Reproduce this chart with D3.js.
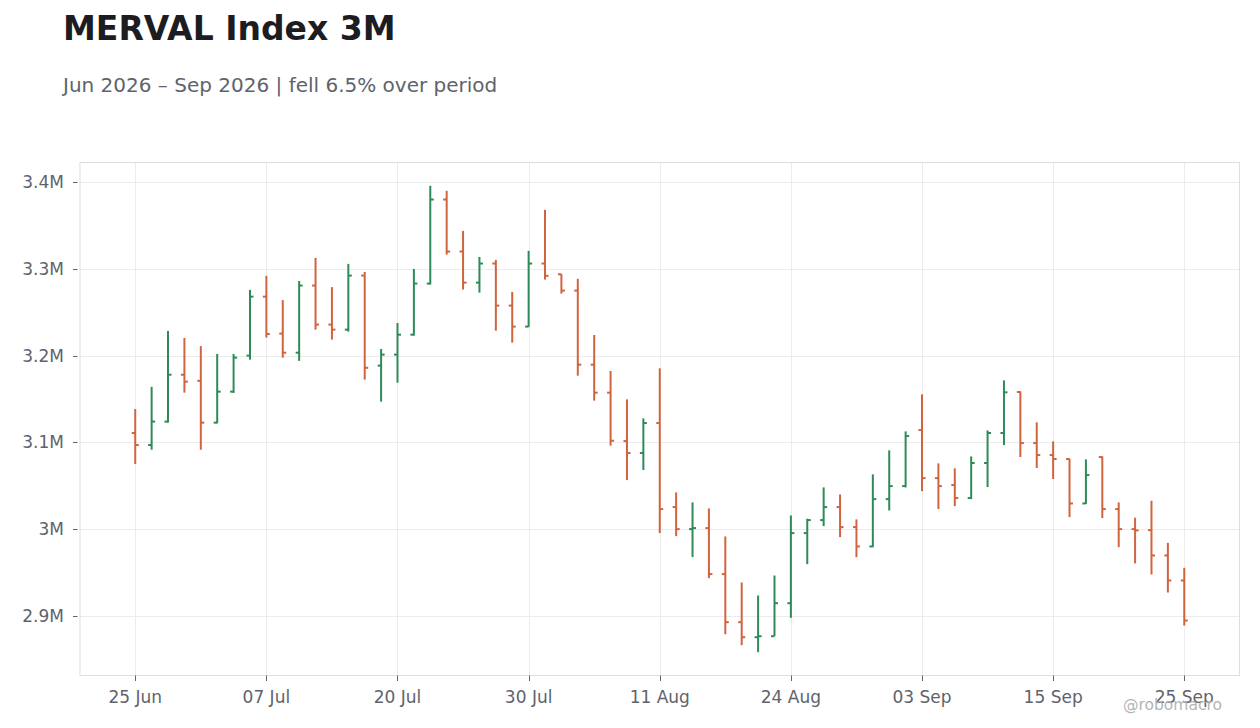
<!DOCTYPE html>
<html>
<head>
<meta charset="utf-8">
<script src="https://cdn.jsdelivr.net/npm/d3@7"></script>
<style>
  html, body { margin: 0; padding: 0; background: #ffffff; }
  svg { display: block; font-family: "DejaVu Sans", sans-serif; }
</style>
</head>
<body>
<svg id="chart" width="1260" height="728"></svg>
<script>
// ---- data (values in index points) ----
const opens = [3110800,3097000,3124000,3178000,3171000,3122700,3158500,3200000,3268000,3225400,
  3203400,3280800,3235800,3230000,3292300,3188500,3201200,3224200,3283100,3380000,
  3320000,3284200,3306200,3257700,3233500,3306200,3293800,3275000,3189600,3157300,
  3101500,3087700,3122300,3025400,3000000,3001200,2948100,2892700,2875400,2876500,
  2914600,2995400,3010400,3025400,3002300,2980000,3034600,3049600,3114200,3058800,
  3050800,3035800,3076200,3110800,3158100,3099200,3085400,3080800,3029600,3083100,
  3023100,3000000,2998800,2969600,2940800];
const highs = [3138500,3164000,3228500,3220400,3211000,3202000,3202000,3275800,3292000,3264000,
  3286000,3312700,3279000,3305800,3296500,3207700,3237700,3300000,3395800,3390000,
  3343800,3313800,3310400,3273500,3320800,3368100,3293800,3288500,3223800,3182300,
  3149600,3127700,3185400,3042300,3030800,3023800,2991500,2938500,2923500,2946500,
  3015800,3011900,3048100,3040000,3011200,3063100,3090800,3112700,3155400,3075800,
  3070000,3083800,3113800,3171500,3158800,3123100,3101200,3081200,3080400,3083800,
  3030800,3013100,3032700,2984200,2955400];
const lows = [3075000,3091500,3122700,3157300,3091500,3122000,3157000,3195400,3220800,3197700,
  3194000,3230000,3218500,3227700,3172300,3147000,3168800,3223100,3282000,3316500,
  3276200,3272700,3228800,3215000,3233100,3287700,3271500,3176900,3148100,3096200,
  3056500,3068100,2995400,2991900,2967700,2943500,2878800,2866200,2858100,2876500,
  2897700,2959600,3003500,2990800,2967700,2979200,3021500,3048100,3043800,3023100,
  3026500,3034600,3048500,3096900,3083100,3070400,3057700,3013800,3029000,3012700,
  2979200,2960400,2947700,2926900,2888800];
const closes = [3097000,3124000,3178000,3170000,3122700,3158500,3197700,3268000,3225000,3203400,
  3280800,3235800,3230000,3292300,3186000,3201200,3224200,3283100,3380000,3320000,
  3284200,3306200,3257700,3233500,3306200,3292000,3275000,3189600,3157300,3101900,
  3087700,3122300,3023100,3000000,3001200,2948100,2892700,2875400,2876500,2914600,
  2995400,3010400,3025400,3002300,2980000,3034600,3049600,3107300,3058800,3049600,
  3035800,3076200,3110800,3157700,3099200,3085400,3080800,3029600,3062300,3023100,
  3000000,2998500,2969600,2940800,2894600];
// x-axis tick labels and the bar index they sit on
const tickLabels = ["25 Jun","07 Jul","20 Jul","30 Jul","11 Aug","24 Aug","03 Sep","15 Sep","25 Sep"];
const tickIndex  = [0, 8, 16, 24, 32, 40, 48, 56, 64];

const title = "MERVAL Index 3M";
const subtitle = "Jun 2026 \u2013 Sep 2026 | fell 6.5% over period";
const credit = "@robomacro";

// ---- build ----
const bars = opens.map((o, i) => ({ i, o, h: highs[i], l: lows[i], c: closes[i] }));

const svg = d3.select("#chart");
const plot = { left: 80, right: 1239.5, top: 162.5, bottom: 675.5 };

const UP = "#2e8b57", DOWN = "#d0643f";

const pad = 3.37;
const x = d3.scaleLinear().domain([-pad, bars.length - 1 + pad]).range([plot.left, plot.right]);

const lo = d3.min(lows), hi = d3.max(highs), span = hi - lo;
const y = d3.scaleLinear().domain([lo - span * 0.05, hi + span * 0.05]).range([plot.bottom, plot.top]);
const yTicks = y.ticks(6);
const fmt = d3.format(".2~s");

// title & subtitle
svg.append("text").attr("x", 63).attr("y", 40)
  .attr("font-size", 33).attr("font-weight", "bold").attr("fill", "#1c1c21").text(title);
svg.append("text").attr("x", 63).attr("y", 92)
  .attr("font-size", 20).attr("fill", "#60636b").text(subtitle);

// grid
const g = svg.append("g");
g.selectAll("line.hg").data(yTicks).join("line")
  .attr("x1", plot.left).attr("x2", plot.right)
  .attr("y1", d => Math.round(y(d)) + 0.5).attr("y2", d => Math.round(y(d)) + 0.5)
  .attr("stroke", "#ececec").attr("stroke-width", 1);
g.selectAll("line.vg").data(tickIndex).join("line")
  .attr("y1", plot.top).attr("y2", plot.bottom)
  .attr("x1", d => Math.round(x(d)) + 0.5).attr("x2", d => Math.round(x(d)) + 0.5)
  .attr("stroke", "#ececec").attr("stroke-width", 1);

// frame
svg.append("rect").attr("x", plot.left).attr("y", plot.top)
  .attr("width", plot.right - plot.left).attr("height", plot.bottom - plot.top)
  .attr("fill", "none").attr("stroke", "#dedede").attr("stroke-width", 1);

// y axis
const ya = svg.append("g");
ya.selectAll("line").data(yTicks).join("line")
  .attr("x1", 73).attr("x2", 77.5)
  .attr("y1", d => Math.round(y(d)) + 0.5).attr("y2", d => Math.round(y(d)) + 0.5)
  .attr("stroke", "#60636b").attr("stroke-width", 1);
ya.selectAll("text").data(yTicks).join("text")
  .attr("x", 64).attr("y", d => y(d)).attr("dy", "0.35em")
  .attr("text-anchor", "end").attr("font-size", 17).attr("fill", "#60636b")
  .text(d => fmt(d));

// x axis
const xa = svg.append("g");
xa.selectAll("line").data(tickIndex).join("line")
  .attr("x1", d => Math.round(x(d)) + 0.5).attr("x2", d => Math.round(x(d)) + 0.5)
  .attr("y1", plot.bottom).attr("y2", plot.bottom + 5.5)
  .attr("stroke", "#60636b").attr("stroke-width", 1);
xa.selectAll("text").data(tickIndex).join("text")
  .attr("x", d => x(d)).attr("y", 702.5)
  .attr("text-anchor", "middle").attr("font-size", 17).attr("fill", "#60636b")
  .text((d, k) => tickLabels[k]);

// OHLC bars
const tk = 3.5;
const bg = svg.append("g").attr("stroke-width", 2).attr("stroke-linecap", "butt");
const bar = bg.selectAll("g").data(bars).join("g")
  .attr("stroke", d => d.c >= d.o ? UP : DOWN);
bar.append("line")
  .attr("x1", d => x(d.i)).attr("x2", d => x(d.i))
  .attr("y1", d => y(d.h)).attr("y2", d => y(d.l));
bar.append("line")
  .attr("x1", d => x(d.i) - tk).attr("x2", d => x(d.i))
  .attr("y1", d => y(d.o)).attr("y2", d => y(d.o));
bar.append("line")
  .attr("x1", d => x(d.i)).attr("x2", d => x(d.i) + tk)
  .attr("y1", d => y(d.c)).attr("y2", d => y(d.c));

// credit
svg.append("text").attr("x", 1222).attr("y", 710)
  .attr("text-anchor", "end").attr("font-size", 15.5).attr("fill", "#b4b4b8").text(credit);
</script>
</body>
</html>
